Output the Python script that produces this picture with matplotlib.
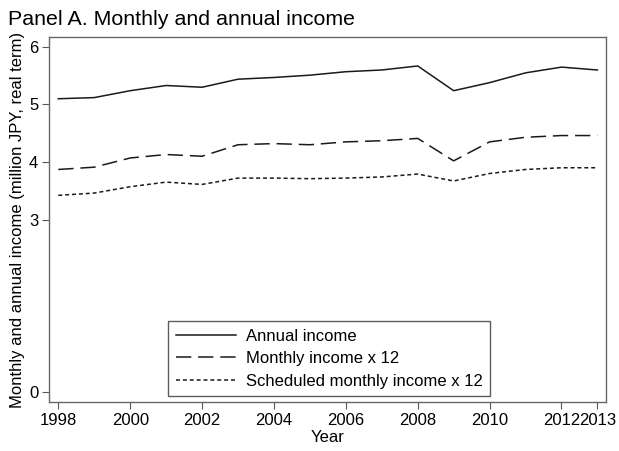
import matplotlib
matplotlib.use('Agg')
import matplotlib.pyplot as plt

plt.rcParams['font.family'] = ['Liberation Sans', 'DejaVu Sans']

years = [1998, 1999, 2000, 2001, 2002, 2003, 2004, 2005, 2006,
         2007, 2008, 2009, 2010, 2011, 2012, 2013]
annual = [5.10, 5.12, 5.24, 5.33, 5.30, 5.44, 5.47, 5.51, 5.57,
          5.60, 5.67, 5.24, 5.38, 5.55, 5.65, 5.60]
monthly12 = [3.87, 3.91, 4.07, 4.13, 4.10, 4.30, 4.32, 4.30, 4.35,
             4.37, 4.41, 4.02, 4.35, 4.43, 4.46, 4.46]
scheduled12 = [3.42, 3.46, 3.57, 3.65, 3.61, 3.72, 3.72, 3.71, 3.72,
               3.74, 3.79, 3.67, 3.80, 3.87, 3.90, 3.90]
xticks = [1998, 2000, 2002, 2004, 2006, 2008, 2010, 2012, 2013]
yticks = [0, 3, 4, 5, 6]

fig = plt.figure(figsize=(6.19, 4.51), dpi=100)
ax = fig.add_axes([0.0797, 0.1086, 0.8988, 0.8094])

lc = '#1a1a1a'
ax.plot(years, annual, color=lc, lw=1.1, label='Annual income')
ax.plot(years, monthly12, color=lc, lw=1.1, dashes=(10, 4.5), label='Monthly income x 12')
ax.plot(years, scheduled12, color=lc, lw=1.1, dashes=(2.6, 1.9), label='Scheduled monthly income x 12')

ax.set_xlim(1997.75, 2013.23)
ax.set_ylim(-0.174, 6.174)
ax.set_xticks(xticks)
ax.set_yticks(yticks)
ax.tick_params(labelsize=12, length=5, width=0.8, color='#555555', pad=3)
for s in ax.spines.values():
    s.set_color('#666666')
    s.set_linewidth(1.0)

ax.set_xlabel('Year', fontsize=12, labelpad=1.5)
ax.set_ylabel('Monthly and annual income (million JPY, real term)', fontsize=12, labelpad=3)

fig.text(0.013, 0.935, 'Panel A. Monthly and annual income', fontsize=15.4, ha='left', va='bottom')

leg = ax.legend(loc='lower left', bbox_to_anchor=(0.2133, 0.0164), frameon=True, fancybox=False,
                fontsize=12, handlelength=3.6, handletextpad=0.6, borderpad=0.45,
                labelspacing=0.45, borderaxespad=0)
leg.get_frame().set_edgecolor('#333333')
leg.get_frame().set_linewidth(1.0)

fig.savefig('out.png', dpi=100)
